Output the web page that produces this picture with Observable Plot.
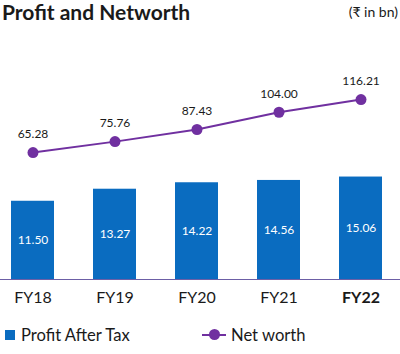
<!DOCTYPE html>
<html>
<head>
<meta charset="utf-8">
<script src="https://cdn.jsdelivr.net/npm/d3@7"></script>
<script src="https://cdn.jsdelivr.net/npm/@observablehq/plot@0.6"></script>
<style>
  html, body { margin: 0; padding: 0; background: #fff; }
  body { width: 400px; height: 354px; position: relative; overflow: hidden; font-family: Lato, "Open Sans", sans-serif; color: #1a1a1a; }
  #title { position: absolute; left: 2px; top: 0; font-size: 21px; line-height: 24px; font-weight: 700; }
  #unit { position: absolute; right: 2px; top: 3px; font-size: 14px; line-height: 18px; }
  #chart { position: absolute; left: 0; top: 30px; width: 400px; height: 290px; }
  #chart svg { position: absolute; left: 0; top: 0; }
  #legend { position: absolute; left: 0; top: 325px; width: 400px; height: 20px; font-size: 16.6px; line-height: 20px; }
  .sw { position: absolute; }
</style>
</head>
<body>
<div id="title">Profit and Networth</div>
<div id="unit">(₹ in bn)</div>
<div id="chart"></div>
<div id="legend">
  <div class="sw" style="left:5px;top:5px;width:10px;height:10px;background:#0a6cc0"></div>
  <div class="sw" style="left:21px;top:0">Profit After Tax</div>
  <div class="sw" style="left:202px;top:9px;width:24px;height:2px;background:#7030a0"></div>
  <div class="sw" style="left:209px;top:4px;width:11px;height:11px;border-radius:50%;background:#7030a0"></div>
  <div class="sw" style="left:231px;top:0">Net worth</div>
</div>
<script>
const years = ["FY18", "FY19", "FY20", "FY21", "FY22"];
const profitAfterTax = [11.50, 13.27, 14.22, 14.56, 15.06];
const netWorth = [65.28, 75.76, 87.43, 104.00, 116.21];

const rows = years.map((y, i) => ({year: y, pat: profitAfterTax[i], nw: netWorth[i]}));
const fmt = d3.format(".2f");

const W = 400, H = 290, MB = 41;
const xOpts = {type: "band", domain: years, range: [-9.6, 401.6], paddingInner: 0.477, paddingOuter: 0.2385, axis: null};

const bars = Plot.plot({
  width: W, height: H,
  marginTop: 0, marginBottom: MB, marginLeft: 0, marginRight: 0,
  style: {background: "transparent", fontFamily: "Lato, 'Open Sans', sans-serif"},
  x: xOpts,
  y: {domain: [0, 36.6], axis: null},
  marks: [
    Plot.barY(rows, {x: "year", y: "pat", fill: "#0a6cc0"}),
    Plot.text(rows, {x: "year", y: d => d.pat / 2, text: d => fmt(d.pat), fill: "white", fontSize: 12}),
    Plot.ruleY([0], {stroke: "#6c5fa6", strokeWidth: 1}),
    Plot.text(rows.filter(d => d.year !== "FY22"), {x: "year", y: 0, text: "year", dy: 18, fontSize: 16, fill: "#1a1a1a"}),
    Plot.text(rows.filter(d => d.year === "FY22"), {x: "year", y: 0, text: "year", dy: 18, fontSize: 16, fontWeight: "bold", fill: "#1a1a1a"})
  ]
});

const line = Plot.plot({
  width: W, height: H,
  marginTop: 0, marginBottom: MB, marginLeft: 0, marginRight: 0,
  style: {background: "transparent", fontFamily: "Lato, 'Open Sans', sans-serif"},
  x: xOpts,
  y: {domain: [-56.8, 182.6], axis: null},
  marks: [
    Plot.line(rows, {x: "year", y: "nw", stroke: "#7030a0", strokeWidth: 2}),
    Plot.dot(rows, {x: "year", y: "nw", r: 5.5, fill: "#7030a0"}),
    Plot.text(rows, {x: "year", y: "nw", text: d => fmt(d.nw), dy: -18.5, fontSize: 12, fill: "#1a1a1a"})
  ]
});

const c = document.getElementById("chart");
c.appendChild(bars);
c.appendChild(line);
</script>
</body>
</html>
